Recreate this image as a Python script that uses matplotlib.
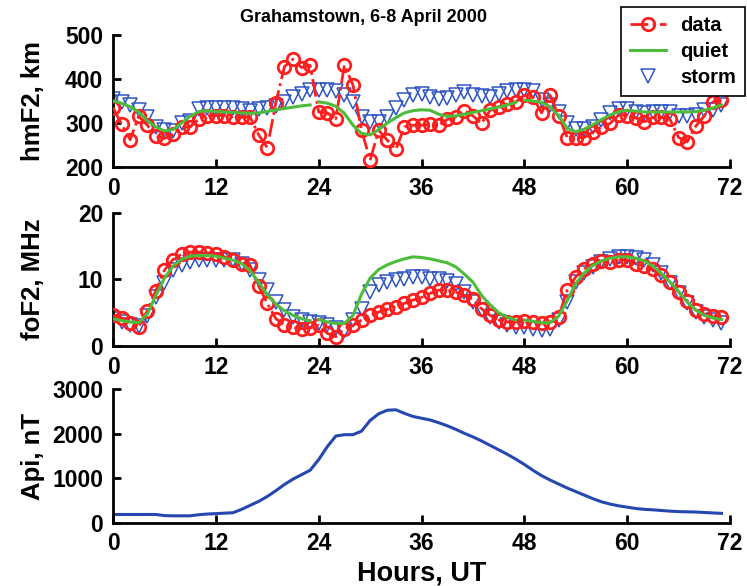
import numpy as np
import matplotlib.pyplot as plt

hours = np.arange(72)

# hmF2, km
hmf2_data = [335, 297, 262, 315, 295, 270, 265, 274, 290, 291, 309, 317, 317, 317, 314, 313, 313, 273, 244, 346, 428, 445, 426, 431,
             325, 323, 310, 432, 386, 284, 215, 284, 261, 240, 291, 295, 295, 297, 295, 308, 314, 328, 316, 299, 329, 337, 343, 348,
             363, 359, 323, 363, 316, 267, 267, 267, 280, 291, 299, 318, 316, 312, 303, 313, 313, 308, 267, 257, 293, 316, 348, 352]
hmf2_quiet = [350, 345, 337, 325, 305, 291, 282, 285, 300, 315, 326, 328, 326, 325, 324, 323, 322, 323, 326, 330, 333, 336, 339, 341,
              348, 345, 338, 322, 295, 276, 273, 285, 300, 312, 323, 328, 330, 329, 320, 315, 316, 320, 324, 328, 332, 336, 341, 347,
              352, 350, 347, 337, 316, 288, 280, 286, 296, 308, 318, 326, 329, 327, 325, 325, 325, 325, 325, 325, 326, 329, 334, 341]
hmf2_storm = [354, 348, 340, 329, 313, 291, 284, 282, 299, 305, 331, 335, 333, 333, 333, 331, 327, 331, 333, 338, 348, 360, 367, 375,
              375, 375, 373, 363, 348, 313, 303, 303, 313, 333, 352, 363, 367, 360, 354, 356, 363, 371, 364, 361, 360, 367, 373, 375,
              376, 373, 352, 341, 325, 299, 287, 287, 291, 306, 322, 331, 331, 325, 322, 325, 325, 325, 316, 316, 318, 329, 329, 341]

# foF2, MHz
fof2_data = [4.6, 4.2, 3.5, 2.9, 5.3, 8.3, 11.4, 13.0, 13.8, 14.1, 14.1, 14.0, 13.9, 13.4, 12.9, 12.4, 12.1, 9.0, 6.4, 4.1, 3.2, 2.8, 2.6, 2.7,
             3.1, 1.9, 1.4, 2.6, 3.1, 3.9, 4.6, 5.1, 5.5, 5.9, 6.4, 6.9, 7.3, 7.9, 8.4, 8.4, 8.1, 7.6, 7.0, 5.6, 4.6, 3.9, 3.6, 3.6,
             3.7, 3.6, 3.4, 3.6, 4.4, 8.4, 10.4, 11.6, 12.3, 12.8, 12.6, 12.9, 12.9, 12.4, 12.0, 11.5, 10.6, 9.6, 8.1, 6.8, 5.4, 4.8, 4.5, 4.3]
fof2_quiet = [4.1, 3.8, 3.6, 3.5, 4.8, 7.6, 10.2, 12.0, 13.0, 13.5, 13.6, 13.6, 13.5, 13.2, 12.9, 12.4, 11.3, 9.6, 7.7, 6.3, 5.3, 4.6, 4.1, 3.8,
              4.0, 3.6, 3.4, 3.4, 4.6, 7.8, 10.2, 11.5, 12.2, 12.7, 13.1, 13.4, 13.3, 13.1, 12.8, 12.5, 11.9, 10.8, 9.6, 7.6, 6.2, 5.0, 4.3, 3.9,
              3.9, 3.7, 3.5, 3.5, 4.5, 6.8, 9.4, 11.0, 12.1, 12.8, 13.2, 13.4, 13.4, 13.2, 12.8, 12.0, 10.9, 9.6, 8.2, 6.6, 5.4, 4.6, 4.2, 4.0]
fof2_storm = [4.1, 3.6, 3.1, 3.0, 4.5, 7.3, 9.4, 11.4, 12.1, 12.6, 12.9, 12.9, 13.0, 12.9, 12.9, 12.4, 11.4, 9.9, 8.4, 6.6, 5.4, 4.4, 3.9, 3.6,
              3.5, 3.2, 2.7, 2.3, 3.9, 5.6, 8.1, 9.1, 9.6, 9.9, 10.1, 10.4, 10.4, 10.1, 10.1, 9.8, 9.3, 8.1, 6.6, 5.4, 4.4, 3.6, 3.1, 2.9,
              2.8, 2.6, 2.4, 2.6, 3.9, 6.6, 9.6, 10.9, 11.9, 12.6, 13.1, 13.4, 13.4, 13.3, 12.9, 12.1, 10.9, 9.4, 7.9, 6.4, 5.1, 4.4, 3.9, 3.5]

# Api, nT
api = [185, 185, 185, 185, 185, 185, 160, 155, 155, 155, 180, 195, 205, 215, 225, 300, 390, 480, 590, 720, 860, 980, 1080, 1180,
       1420, 1710, 1950, 1980, 1980, 2060, 2300, 2450, 2530, 2540, 2460, 2390, 2350, 2310, 2250, 2180, 2100, 2010, 1930, 1840, 1740, 1640, 1540, 1430,
       1310, 1180, 1060, 960, 870, 780, 700, 620, 540, 470, 420, 380, 350, 320, 300, 290, 275, 260, 250, 245, 240, 230, 220, 210]

xticks = [0, 12, 24, 36, 48, 60, 72]

RED = '#ff1e1e'
GREEN = '#4cbc3a'
BLUE = '#2f55c4'

plt.rcParams['font.family'] = ['Liberation Sans', 'DejaVu Sans']
plt.rcParams['font.weight'] = 'bold'

fig = plt.figure(figsize=(7.47, 5.86), dpi=100)
ax1 = fig.add_axes([0.1513, 0.715, 0.826, 0.2253])
ax2 = fig.add_axes([0.1513, 0.4096, 0.826, 0.227])
ax3 = fig.add_axes([0.1513, 0.108, 0.826, 0.2276])


def style(ax, ylim, yticks, ylabel):
    ax.set_xlim(0, 72)
    ax.set_ylim(*ylim)
    ax.set_xticks(xticks)
    ax.set_yticks(yticks)
    for s in ['top', 'right']:
        ax.spines[s].set_visible(False)
    for s in ['left', 'bottom']:
        ax.spines[s].set_linewidth(2)
    ax.tick_params(direction='in', length=6, width=2, labelsize=16.5, pad=7)
    for lab in ax.get_xticklabels() + ax.get_yticklabels():
        lab.set_fontweight('bold')
    ax.set_ylabel(ylabel, fontsize=18.5, fontweight='bold')
    ax.yaxis.set_label_coords(-0.11, 0.5)


def quiet_line(ax, vals):
    # quiet model drawn day by day
    for d in range(3):
        sl = slice(d * 24, (d + 1) * 24)
        ax.plot(hours[sl], vals[sl], color=GREEN, lw=2.2, zorder=4)


# top: hmF2
ax1.plot(hours, hmf2_storm, 'v', color=BLUE, mfc='none', ms=9.5, mew=1.1, zorder=2)
ax1.plot(hours, hmf2_data, '-.', color=RED, lw=2, marker='o', mfc='none', ms=9, mew=2, zorder=3)
quiet_line(ax1, hmf2_quiet)
style(ax1, (200, 500), [200, 300, 400, 500], 'hmF2, km')

# middle: foF2
ax2.plot(hours, fof2_storm, 'v', color=BLUE, mfc='none', ms=9.5, mew=1.1, zorder=2)
ax2.plot(hours, fof2_data, '-.', color=RED, lw=2, marker='o', mfc='none', ms=9, mew=2, zorder=3)
quiet_line(ax2, fof2_quiet)
style(ax2, (0, 20), [0, 10, 20], 'foF2, MHz')

# bottom: Api
ax3.plot(hours, api, color='#2448b0', lw=2.2)
style(ax3, (0, 3000), [0, 1000, 2000, 3000], 'Api, nT')
ax3.set_xlabel('Hours, UT', fontsize=19.5, fontweight='bold', labelpad=4)

fig.text(363 / 747, 1 - 17 / 586, 'Grahamstown, 6-8 April 2000', ha='center', va='center',
         fontsize=13, fontweight='bold')

h_data, = ax1.plot([], [], '-.', color=RED, lw=2, marker='o', mfc='none', ms=9, mew=2)
h_quiet, = ax1.plot([], [], color=GREEN, lw=2.2)
h_storm, = ax1.plot([], [], 'v', color=BLUE, mfc='none', ms=9.5, mew=1.1)
leg = fig.legend([h_data, h_quiet, h_storm], ['data', 'quiet', 'storm'],
                 loc='upper right', bbox_to_anchor=(745 / 747, 1 - 7 / 586),
                 fancybox=False, framealpha=1, edgecolor='black', fontsize=14.5,
                 handlelength=1.8, borderpad=0.45, labelspacing=0.35, handletextpad=0.7,
                 borderaxespad=0)
leg.get_frame().set_linewidth(1.2)
for t in leg.get_texts():
    t.set_fontweight('bold')

fig.savefig('out.png', dpi=100)
